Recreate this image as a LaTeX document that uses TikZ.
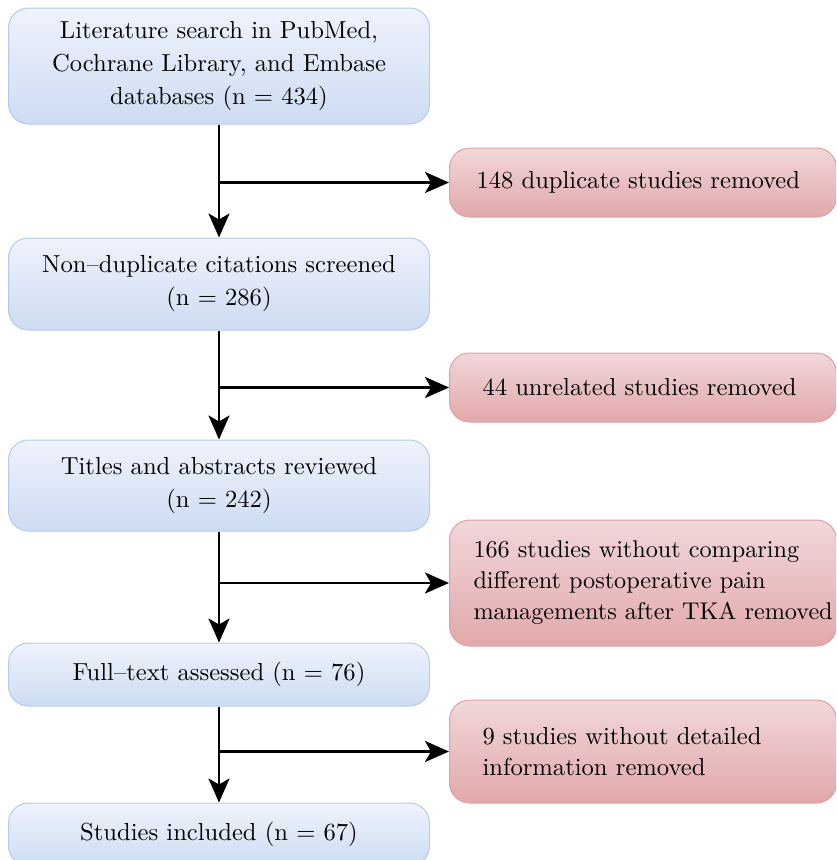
\documentclass[tikz,border=0pt]{standalone}
\usepackage{fontspec}
\setmainfont{lmroman10-regular}[Extension=.otf]
\usetikzlibrary{arrows.meta}
\definecolor{bluetop}{HTML}{EFF3FC}
\definecolor{bluebot}{HTML}{CDDCF2}
\definecolor{blueline}{HTML}{B2CBEE}
\definecolor{redtop}{HTML}{F1D7D9}
\definecolor{redbot}{HTML}{E2A8AB}
\definecolor{redline}{HTML}{DCA2A6}
\tikzset{
  stage/.style={draw=blueline, line width=1pt, rounded corners=20pt,
    top color=bluetop, bottom color=bluebot, minimum width=421pt,
    align=center, font=\fontsize{24.6}{33}\selectfont},
  excl/.style={draw=redline, line width=1pt, rounded corners=20pt,
    top color=redtop, bottom color=redbot, minimum width=387pt,
    anchor=west, align=left, font=\fontsize{24.6}{31}\selectfont},
  flow/.style={-{Stealth[length=24pt,width=21pt,inset=6pt]}, line width=2.8pt}
}
\begin{document}
\begin{tikzpicture}[x=1pt,y=-1pt]
  \useasboundingbox (0,0) rectangle (836,860);
  \clip (0,0) rectangle (836,860);
  % main stages
  \node[stage, minimum height=116pt] (s1) at (219,66) {Literature search in PubMed,\\Cochrane Library, and Embase\\databases (n = 434)};
  \node[stage, minimum height=92pt] (s2) at (219,284) {Non--duplicate citations screened\\(n = 286)};
  \node[stage, minimum height=91pt] (s3) at (219,485.5) {Titles and abstracts reviewed\\(n = 242)};
  \node[stage, minimum height=63pt] (s4) at (219,674.5) {Full--text assessed (n = 76)};
  \node[stage, minimum height=63pt] (s5) at (219,834.5) {Studies included (n = 67)};
  % exclusions
  \node[excl, minimum height=69pt, inner xsep=27pt, text width=333pt] (e1) at (449,182.5) {148 duplicate studies removed};
  \node[excl, minimum height=69pt, inner xsep=33pt, text width=321pt] (e2) at (449,387.5) {44 unrelated studies removed};
  \node[excl, minimum height=126pt, inner xsep=24pt, text width=339pt, font=\fontsize{24.2}{31}\selectfont] (e3) at (449,583) {166 studies without comparing\\different postoperative pain\\\mbox{managements after TKA removed}};
  \node[excl, minimum height=103pt, inner xsep=33pt, text width=321pt] (e4) at (449,751.5) {9 studies without detailed\\information removed};

  \foreach \a/\b/\c in {s1/s2/e1, s2/s3/e2, s3/s4/e3, s4/s5/e4}{
    \draw[flow] (\a.south) -- (\b.north);
    \draw[flow] (\a.south |- \c.west) -- (\c.west);
  }
\end{tikzpicture}
\end{document}
